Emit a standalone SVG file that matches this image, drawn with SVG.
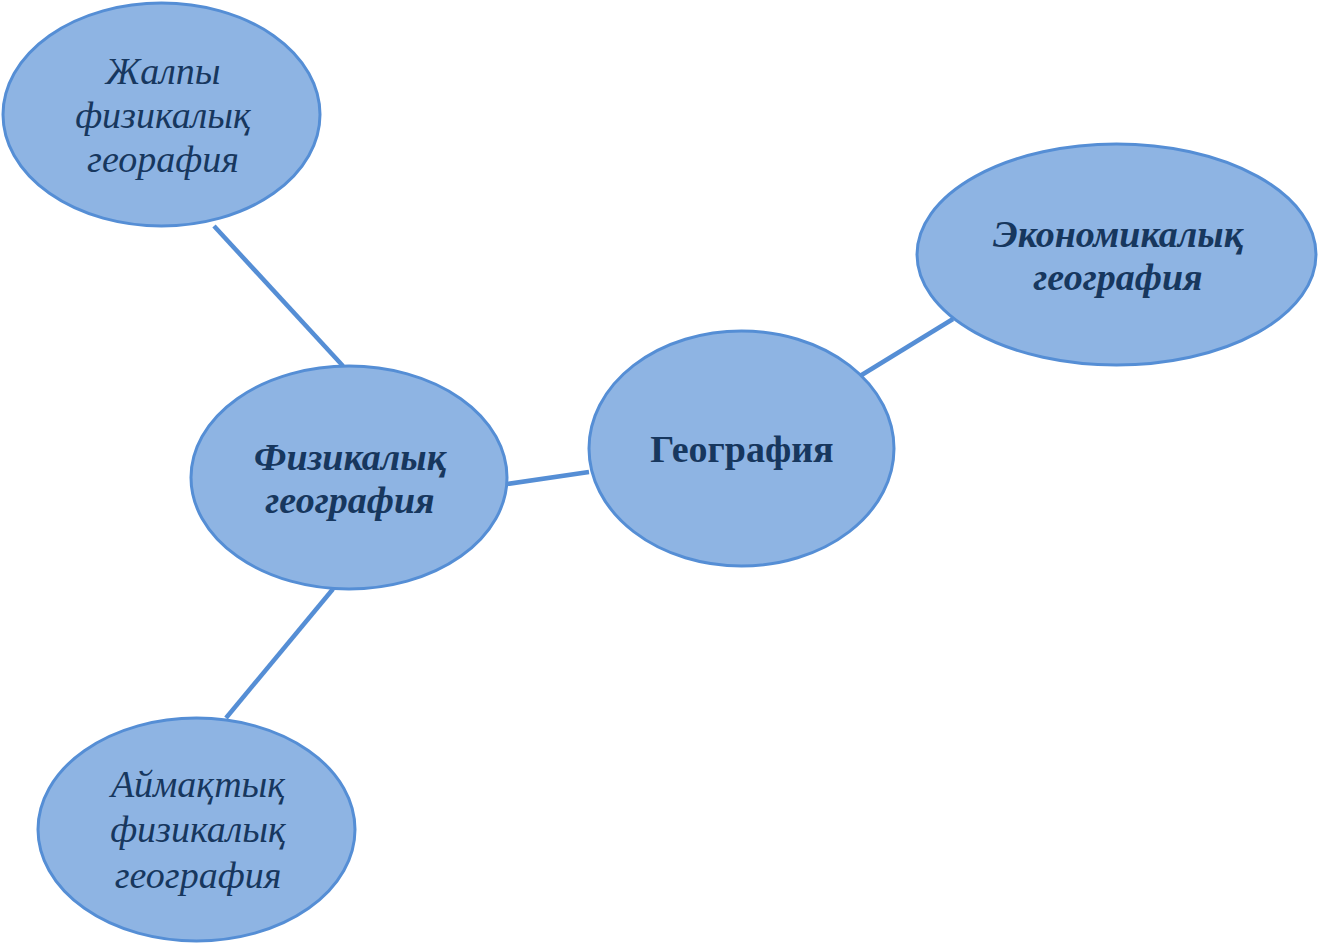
<svg xmlns="http://www.w3.org/2000/svg" width="1319" height="944" viewBox="0 0 1319 944">
<style>
.n{fill:#8EB4E3;stroke:#558ED5;stroke-width:3}
.c{stroke:#558ED5;stroke-width:4.5;fill:none}
.t{font-family:"Liberation Serif","Times New Roman",serif;font-size:38px;fill:#17375E;text-anchor:middle}
.i{font-style:italic}
.bi{font-style:italic;font-weight:bold}
.b{font-weight:bold}
</style>
<rect width="1319" height="944" fill="#FFFFFF"/>
<g id="connectors">
<line class="c" x1="214" y1="226" x2="343" y2="366"/>
<line class="c" x1="507" y1="484" x2="589" y2="472"/>
<line class="c" x1="860" y1="376" x2="953" y2="319"/>
<line class="c" x1="333" y1="589" x2="226" y2="718"/>
</g>
<g id="zhalpy">
<ellipse class="n" cx="161.5" cy="114.5" rx="158.5" ry="111.5"/>
<text class="t i" x="163" y="84">Жалпы</text>
<text class="t i" x="163" y="128">физикалық</text>
<text class="t i" x="163" y="172">георафия</text>
</g>
<g id="ekonomikalyq">
<ellipse class="n" cx="1116.5" cy="254.5" rx="199.5" ry="110.5"/>
<text class="t bi" x="1118" y="247">Экономикалық</text>
<text class="t bi" x="1118" y="290">география</text>
</g>
<g id="geografiya">
<ellipse class="n" cx="741.5" cy="448.5" rx="152.5" ry="117.5"/>
<text class="t b" x="742" y="462">География</text>
</g>
<g id="fizikalyq">
<ellipse class="n" cx="349" cy="477.5" rx="158" ry="111.5"/>
<text class="t bi" x="350" y="470">Физикалық</text>
<text class="t bi" x="350" y="513">география</text>
</g>
<g id="aimaqtyq">
<ellipse class="n" cx="196.5" cy="829.5" rx="158.5" ry="111.5"/>
<text class="t i" x="198" y="797">Аймақтық</text>
<text class="t i" x="198" y="842">физикалық</text>
<text class="t i" x="198" y="888">география</text>
</g>
</svg>
